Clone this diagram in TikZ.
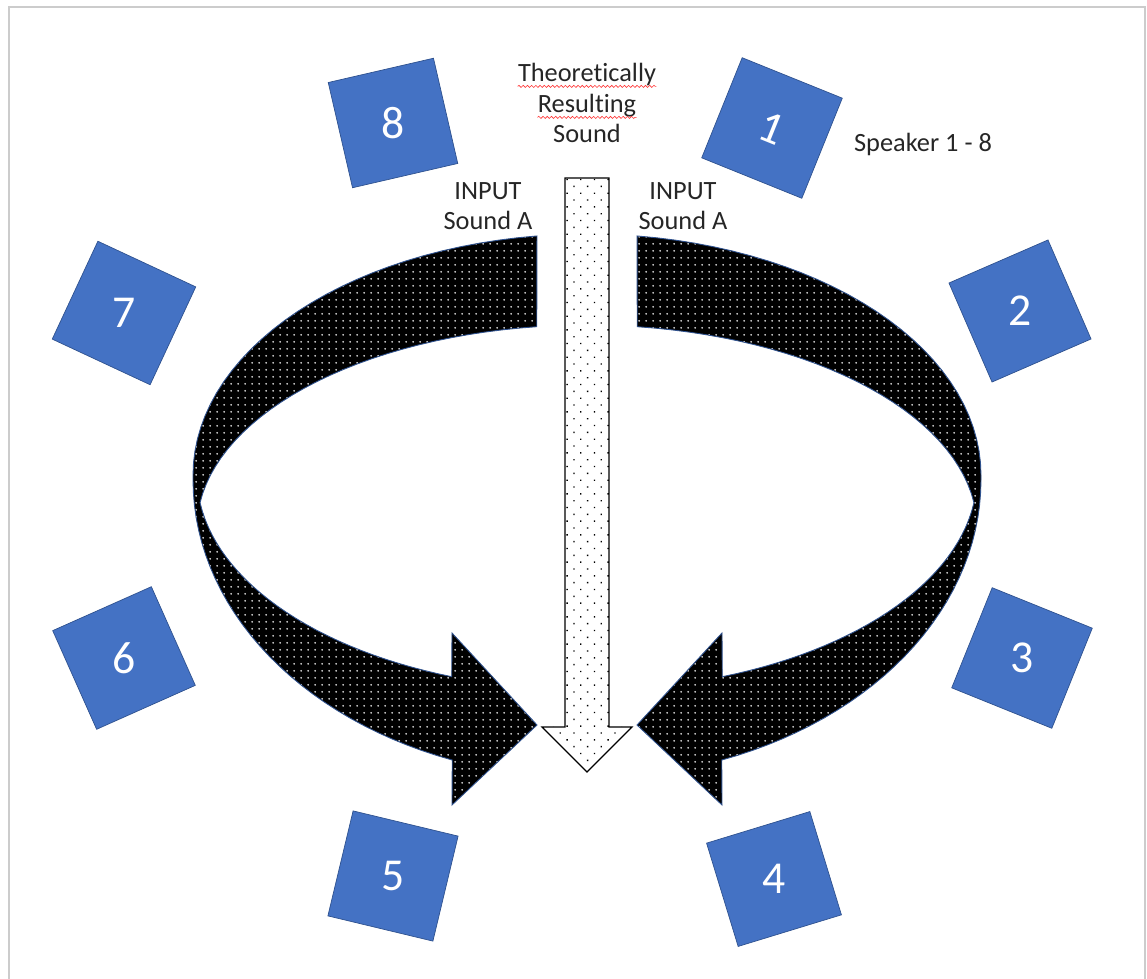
\documentclass[tikz,border=0pt]{standalone}
\usepackage{fontspec}
\setmainfont[Ligatures=NoCommon]{Carlito}
\usepackage{tikz}
\usetikzlibrary{patterns.meta}
\usetikzlibrary{decorations.pathmorphing}
\definecolor{spkfill}{HTML}{4472C4}
\definecolor{spkline}{HTML}{2F528F}
\tikzset{speaker/.style={draw=spkline,fill=spkfill,text=white,minimum size=2.16cm,inner sep=0pt,font=\fontsize{26}{30}\selectfont}}
\tikzset{lbl/.style={text=black!85,inner sep=0pt,font=\fontsize{15}{17.4}\selectfont}}
\tikzset{band/.style={draw=spkline,line width=0.5pt,preaction={fill=black},pattern={Dots[distance=4pt,radius=0.6pt]},pattern color=white}}
\tikzset{outarrow/.style={draw=black,line width=0.7pt,preaction={fill=white},pattern={Dots[distance=5.5pt,radius=0.55pt,angle=45]},pattern color=black}}
\tikzset{squiggle/.style={draw=red!80,line width=0.35pt,decorate,decoration={snake,amplitude=0.6pt,segment length=2.4pt}}}
\tikzset{frame/.style={draw=black!20,line width=1.2pt}}

\begin{document}
\begin{tikzpicture}[x=0.02cm,y=-0.02cm]
\useasboundingbox (0,0) rectangle (1147,979);
\draw[frame] (9,979) -- (9,7) -- (1145,7) -- (1145,979);

\foreach \s in {1,-1}
{
\path[band] plot[variable=\t,domain=262.7:180,samples=30] ({587+(\s)*394*cos(\t)},{475+241*sin(\t)})
  -- plot[variable=\t,domain=180:110,samples=30] ({587+(\s)*394*cos(\t)},{480+298*sin(\t)})
  -- ({587-(\s)*135},805) -- ({587-(\s)*50},725) -- ({587-(\s)*135},633)
  -- plot[variable=\t,domain=110.3:172.8,samples=30] ({587+(\s)*390*cos(\t)},{476+214*sin(\t)})
  -- plot[variable=\t,domain=187.2:262.6,samples=30] ({587+(\s)*390*cos(\t)},{528+203*sin(\t)}) -- cycle;
}
\path[outarrow] (565,178) -- (609,178) -- (609,727) -- (632,727) -- (587,772) -- (542,727) -- (565,727) -- cycle;

\node[speaker,rotate=-22] (s1) at (772,128) {1};
\node[speaker,rotate=23.5] (s2) at (1020,311) {\rotatebox{-23.5}{2}};
\node[speaker,rotate=-22] (s3) at (1022,658) {\rotatebox{22}{3}};
\node[speaker,rotate=17] (s4) at (774,879) {\rotatebox{-17}{4}};
\node[speaker,rotate=-13.5] (s5) at (393,876) {\rotatebox{13.5}{5}};
\node[speaker,rotate=24] (s6) at (124,658) {\rotatebox{-24}{6}};
\node[speaker,rotate=-25] (s7) at (124,313) {\rotatebox{25}{7}};
\node[speaker,rotate=13] (s8) at (393,123) {\rotatebox{-13}{8}};

\node[lbl,anchor=base] (th) at (587,82) {Theoretically};
\node[lbl,anchor=base] (rs) at (587,113) {Resulting};
\node[lbl,anchor=base] (sd) at (587,143) {Sound};
\draw[squiggle] ([yshift=-2.5pt]th.base west) -- ([yshift=-2.5pt]th.base east);
\draw[squiggle] ([yshift=-2.5pt]rs.base west) -- ([yshift=-2.5pt]rs.base east);
\node[lbl,align=center] (inl) at (488,206) {INPUT\\Sound A};
\node[lbl,align=center] (inr) at (683,206) {INPUT\\Sound A};
\node[lbl,anchor=base] (spk) at (923,152) {Speaker 1 - 8};
\end{tikzpicture}
\end{document}
